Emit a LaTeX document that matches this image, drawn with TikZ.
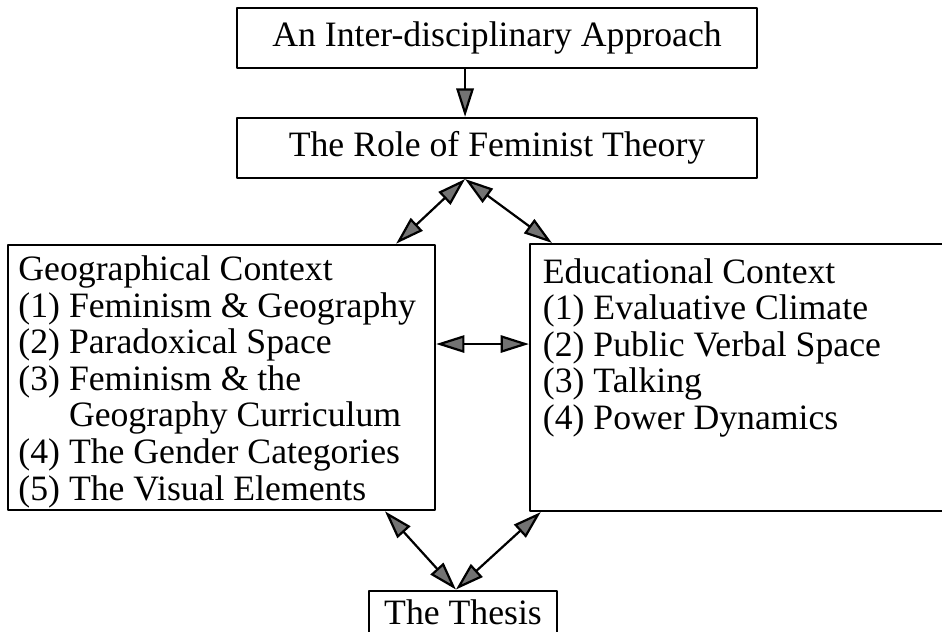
\documentclass[tikz,border=0pt]{standalone}
\usepackage{fontspec}
\setmainfont{Liberation Serif}
\usetikzlibrary{arrows.meta}

\begin{document}
\begin{tikzpicture}[>={Triangle[length=3.6mm,width=2.2mm,fill=black!55]},
    line cap=round,line join=round,
    font=\fontsize{12.9}{13.2}\selectfont,
    frame/.style={draw,thick,inner sep=0pt},
    list/.style={anchor=north west,align=left,inner sep=0pt}]

  % page size, the right box runs off the edge
  \useasboundingbox (0,0) rectangle (11.963,8.026);
  \clip (0,0) rectangle (11.963,8.026);

  % top row
  \node[frame,minimum width=6.604cm,minimum height=0.762cm] (approach)
    at (6.312,7.544) {An Inter-disciplinary Approach};
  \node[frame,minimum width=6.604cm,minimum height=0.762cm] (role)
    at (6.312,6.147) {The Role of Feminist Theory};

  % the two context boxes
  \node[frame,minimum width=5.423cm,minimum height=3.37cm] (geo) at (2.813,3.232) {};
  \node[frame,minimum width=5.969cm,minimum height=3.39cm] (edu) at (9.716,3.232) {};

  \node[list] (geotext) at ([shift={(0.14,-0.15)}]geo.north west)
    {Geographical Context\\
     (1) Feminism \& Geography\\
     (2) Paradoxical Space\\
     (3) Feminism \& the\\
     \phantom{(3)}\ Geography Curriculum\\
     (4) The Gender Categories\\
     (5) The Visual Elements};
  \node[list] (edutext) at ([shift={(0.17,-0.19)}]edu.north west)
    {Educational Context\\
     (1) Evaluative Climate\\
     (2) Public Verbal Space\\
     (3) Talking\\
     (4) Power Dynamics};

  % bottom box, cut by the page edge
  \node[frame,minimum width=2.388cm,minimum height=0.56cm] (thesis)
    at (5.880,0.245) {The Thesis};

  % connectors
  \draw[->,thick] ([xshift=-0.406cm]approach.south) -- ([xshift=-0.406cm]role.north);
  \draw[<->,thick] ([xshift=-0.406cm]role.south) -- ([xshift=-0.508cm]geo.north east);
  \draw[<->,thick] ([xshift=-0.406cm]role.south) -- ([xshift=0.292cm]edu.north west);
  \draw[<->,thick] ([yshift=0.425cm]geo.east) -- ([yshift=0.425cm]edu.west);
  \draw[<->,thick] ([xshift=-0.09cm]thesis.north) -- ([xshift=-0.65cm]geo.south east);
  \draw[<->,thick] ([xshift=-0.09cm]thesis.north) -- ([xshift=0.15cm]edu.south west);
\end{tikzpicture}
\end{document}
